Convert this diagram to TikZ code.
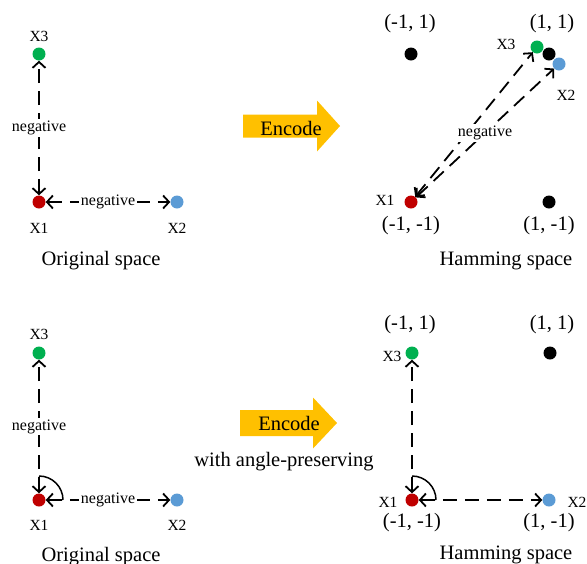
\documentclass[tikz,border=0pt]{standalone}
\usepackage{fontspec}
\setmainfont{Liberation Serif}
\usetikzlibrary{arrows.meta}
\definecolor{xred}{HTML}{C00000}
\definecolor{xgreen}{HTML}{00B050}
\definecolor{xblue}{HTML}{5B9BD5}
\definecolor{encorange}{HTML}{FFC000}
\begin{document}
\begin{tikzpicture}[x=1pt, y=-1pt,
	dot/.style={circle, inner sep=0pt, minimum size=13pt, fill=#1},
	lab/.style={anchor=base, inner sep=0pt, font=\fontsize{15.5}{18}\selectfont},
	txt/.style={anchor=base, inner sep=0pt, font=\fontsize{20.5}{24}\selectfont},
	neg/.style={fill=white, inner sep=1.5pt, font=\fontsize{16}{19}\selectfont},
	link/.style={line width=1.8pt, dash pattern=on 14pt off 8pt, arrows={Straight Barb[length=6pt, width=13pt]-Straight Barb[length=6pt, width=13pt]}},
	angarc/.style={line width=1.5pt},
	encode/.style={fill=encorange}]
	\useasboundingbox (0,0) rectangle (587,563);

	\node [dot=xred] (x1o) at (39,202) {};
	\node [dot=xblue] (x2o) at (177,202) {};
	\node [dot=xgreen] (x3o) at (39,54) {};
	\node [lab] (lx1o) at (39,233) {X1};
	\node [lab] (lx2o) at (177,233) {X2};
	\node [lab] (lx3o) at (39,41) {X3};
	\draw [link] (x1o) -- (x3o) node [neg, midway] {negative};
	\draw [link] (x1o) -- (x2o) node [neg, midway] {negative};
	\node [txt] (orig1) at (101,265) {Original space};

	\fill [encode] (243,114.5) -- (317,114.5) -- (317,100.5) -- (340,126) -- (317,151.5) -- (317,137.5) -- (243,137.5) -- cycle;
	\node [txt] (enc1) at (291,135) {Encode};

	\node [dot=black] (hmp) at (411,54) {};
	\node [dot=black] (hpp) at (549,54) {};
	\node [dot=xgreen] (x3h) at (537,47) {};
	\node [dot=xblue] (x2h) at (559,64) {};
	\node [dot=xred] (x1h) at (411,202) {};
	\node [dot=black] (hpm) at (549,202) {};
	\node [txt] (lhmp) at (410,28.5) {(-1, 1)};
	\node [txt] (lhpp) at (552,28.5) {(1, 1)};
	\node [txt] (lhmm) at (411,230) {(-1, -1)};
	\node [txt] (lhpm) at (549,230) {(1, -1)};
	\node [lab] (lx3h) at (506,49) {X3};
	\node [lab] (lx2h) at (566,100) {X2};
	\node [lab] (lx1h) at (385,205) {X1};
	\draw [link] (x1h) -- (x3h);
	\draw [link] (x1h) -- (x2h) node [neg, midway] {negative};
	\node [txt] (ham1) at (506,265) {Hamming space};

	\node [dot=xred] (x1a) at (39,500) {};
	\node [dot=xblue] (x2a) at (177,500) {};
	\node [dot=xgreen] (x3a) at (39,353) {};
	\node [lab] (lx1a) at (39,530) {X1};
	\node [lab] (lx2a) at (177,530) {X2};
	\node [lab] (lx3a) at (39,339) {X3};
	\draw [link] (x1a) -- (x3a) node [neg, midway] {negative};
	\draw [link] (x1a) -- (x2a) node [neg, midway] {negative};
	\draw [angarc] (x1a.center) ++(0,-24) arc [start angle=-90, end angle=0, radius=24];
	\node [txt] (orig2) at (101,561) {Original space};

	\fill [encode] (240,410) -- (313,410) -- (313,397.5) -- (337,423) -- (313,448.5) -- (313,436) -- (240,436) -- cycle;
	\node [txt] (enc2) at (289,430) {Encode};
	\node [txt] (angp) at (284,466) {with angle-preserving};

	\node [dot=xgreen] (x3b) at (412,353) {};
	\node [dot=black] (bpp) at (550,353) {};
	\node [dot=xred] (x1b) at (412,500) {};
	\node [dot=xblue] (x2b) at (549,500) {};
	\node [txt] (lbmp) at (410,329) {(-1, 1)};
	\node [txt] (lbpp) at (552,329) {(1, 1)};
	\node [txt] (lbmm) at (412,527) {(-1, -1)};
	\node [txt] (lbpm) at (549,527) {(1, -1)};
	\node [lab] (lx3b) at (392,361) {X3};
	\node [lab] (lx1b) at (388,507) {X1};
	\node [lab] (lx2b) at (577,507) {X2};
	\draw [link] (x1b) -- (x3b);
	\draw [link] (x1b) -- (x2b);
	\draw [angarc] (x1b.center) ++(0,-24) arc [start angle=-90, end angle=0, radius=24];
	\node [txt] (ham2) at (506,559) {Hamming space};
\end{tikzpicture}
\end{document}
